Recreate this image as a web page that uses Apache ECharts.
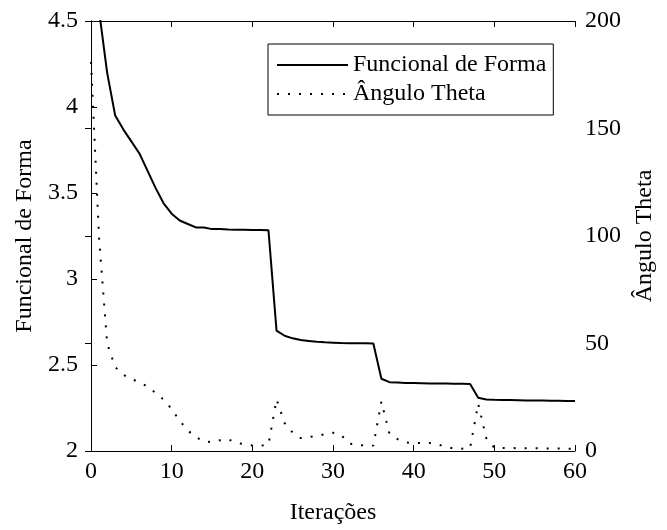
<!DOCTYPE html>
<html>
<head>
<meta charset="utf-8">
<script src="https://cdn.jsdelivr.net/npm/echarts@6/dist/echarts.min.js"></script>
<style>
  html, body { margin: 0; padding: 0; background: #fff; }
  #chart { width: 667px; height: 530px; }
</style>
</head>
<body>
<div id="chart"></div>
<script>
// iteracoes 0..60
const iteracoes = []
for (let i = 0; i <= 60; i++) iteracoes.push(i)

const funcional = [
  4.9, 4.56, 4.2, 3.95, 3.87, 3.80, 3.73, 3.63, 3.53, 3.44,
  3.38, 3.34, 3.32, 3.30, 3.30, 3.29, 3.29, 3.288, 3.287, 3.286,
  3.285, 3.285, 3.283, 2.70, 2.67, 2.655, 2.645, 2.64, 2.635, 2.632,
  2.63, 2.628, 2.627, 2.626, 2.626, 2.625, 2.42, 2.40, 2.398, 2.396,
  2.395, 2.394, 2.393, 2.392, 2.392, 2.391, 2.391, 2.39, 2.31, 2.30,
  2.298, 2.297, 2.296, 2.295, 2.294, 2.294, 2.293, 2.292, 2.292, 2.291,
  2.29
]

const theta = [
  181, 99, 50, 39, 35.5, 33.5, 32, 30, 27, 24,
  19.5, 14, 9.5, 6.5, 4.3, 4.2, 5, 5.5, 3.8, 3.2,
  2.6, 2.4, 3, 24, 13, 8.5, 6, 6.5, 7, 7.8,
  8.5, 7.5, 3.5, 2.8, 2.6, 2.5, 23, 8, 5.5, 4,
  3.7, 3.7, 3.7, 3, 2, 1.1, 1.1, 1.5, 22, 6,
  1.5, 1.4, 1.4, 1.3, 1.3, 1.3, 1.2, 1.2, 1.2, 1.1,
  1.1
]

const font = 'Liberation Serif'
const axisText = { color: '#000', fontFamily: font, fontSize: 24 }
const blackLine = { lineStyle: { color: '#000', width: 1 } }
const tickIn = { inside: true, length: 6, lineStyle: { color: '#000', width: 1 } }

const chart = echarts.init(document.getElementById('chart'))
chart.setOption({
  animation: false,
  backgroundColor: '#fff',
  grid: { left: 91, right: 92, top: 21, bottom: 75 },
  legend: {
    left: 268,
    top: 44,
    orient: 'vertical',
    backgroundColor: '#fff',
    borderColor: '#000',
    borderWidth: 1,
    padding: [9, 7, 9, 8],
    itemGap: 5,
    itemWidth: 71,
    itemHeight: 4,
    itemStyle: { opacity: 0 },
    textStyle: { color: '#000', fontFamily: font, fontSize: 24 },
    data: ['Funcional de Forma', 'Ângulo Theta']
  },
  xAxis: [
    {
      type: 'value', min: 0, max: 60, interval: 10,
      name: 'Iterações', nameLocation: 'middle', nameGap: 50,
      nameTextStyle: axisText,
      axisLine: blackLine, axisTick: tickIn,
      axisLabel: Object.assign({ margin: 9 }, axisText),
      splitLine: { show: false }
    },
    {
      type: 'value', min: 0, max: 60, interval: 10, position: 'top',
      axisLine: blackLine, axisTick: tickIn,
      axisLabel: { show: false }, splitLine: { show: false }
    }
  ],
  yAxis: [
    {
      type: 'value', min: 2, max: 4.5, interval: 0.5,
      name: 'Funcional de Forma', nameLocation: 'middle', nameGap: 52,
      nameTextStyle: axisText,
      axisLine: { show: true, lineStyle: { color: '#000', width: 1 } },
      axisTick: Object.assign({ show: true }, tickIn),
      axisLabel: Object.assign({ margin: 13 }, axisText),
      splitLine: { show: false }
    },
    {
      type: 'value', min: 0, max: 200, interval: 50, position: 'right',
      name: 'Ângulo Theta', nameLocation: 'middle', nameGap: 58,
      nameTextStyle: axisText,
      axisLine: { show: true, lineStyle: { color: '#000', width: 1 } },
      axisTick: Object.assign({ show: true }, tickIn),
      axisLabel: Object.assign({ margin: 10 }, axisText),
      splitLine: { show: false }
    }
  ],
  series: [
    {
      name: 'Funcional de Forma',
      type: 'line',
      xAxisIndex: 0,
      yAxisIndex: 0,
      data: iteracoes.map((x, i) => [x, funcional[i]]),
      symbol: 'none',
      lineStyle: { color: '#000', width: 2 },
      itemStyle: { color: '#000' }
    },
    {
      name: 'Ângulo Theta',
      type: 'line',
      xAxisIndex: 0,
      yAxisIndex: 1,
      data: iteracoes.map((x, i) => [x, theta[i]]),
      symbol: 'none',
      lineStyle: { color: '#000', width: 2, type: [2, 9] },
      itemStyle: { color: '#000' }
    }
  ]
})
</script>
</body>
</html>
